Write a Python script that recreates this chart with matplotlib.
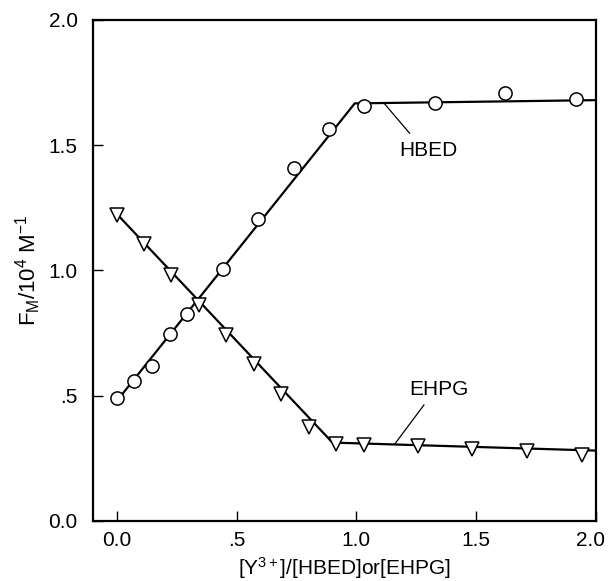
import matplotlib.pyplot as plt
import matplotlib.transforms as mtransforms

plt.rcParams['font.family'] = ['Liberation Sans', 'DejaVu Sans']
plt.rcParams['mathtext.fontset'] = 'custom'
plt.rcParams['mathtext.rm'] = 'Liberation Sans'
plt.rcParams['mathtext.it'] = 'Liberation Sans'

# measured points
hbed_x = [0.0, 0.073, 0.148, 0.222, 0.294, 0.443, 0.59, 0.739, 0.885, 1.03, 1.328, 1.622, 1.918]
hbed_y = [0.492, 0.557, 0.620, 0.746, 0.825, 1.006, 1.207, 1.41, 1.564, 1.657, 1.670, 1.707, 1.683]
ehpg_x = [0.0, 0.114, 0.2275, 0.344, 0.457, 0.571, 0.687, 0.8025, 0.914, 1.03, 1.257, 1.483, 1.7125, 1.942]
ehpg_y = [1.222, 1.106, 0.981, 0.864, 0.741, 0.628, 0.505, 0.376, 0.309, 0.302, 0.298, 0.286, 0.278, 0.262]

# fitted lines (two segments each)
hbed_fit_x = [0.0, 0.993, 2.0]
hbed_fit_y = [0.48, 1.667, 1.68]
ehpg_fit_x = [0.0, 0.9, 2.0]
ehpg_fit_y = [1.225, 0.313, 0.281]

ticks = [0.0, 0.5, 1.0, 1.5, 2.0]
tick_labels = ['0.0', '.5', '1.0', '1.5', '2.0']

fig = plt.figure(figsize=(6.08, 5.81), dpi=100)
ax = fig.add_axes([0.153, 0.1033, 0.827, 0.8623])

ax.plot(hbed_fit_x, hbed_fit_y, color='black', lw=1.6, zorder=2)
ax.plot(ehpg_fit_x, ehpg_fit_y, color='black', lw=1.6, zorder=2)
ax.plot(hbed_x, hbed_y, 'o', ms=9.5, mfc='white', mec='black', mew=1.1, zorder=3)
ax.plot(ehpg_x, ehpg_y, 'v', ms=10, mfc='white', mec='black', mew=1.1, zorder=3)

# labels with leader lines
ax.plot([1.118, 1.222], [1.665, 1.548], color='black', lw=0.9)
ax.text(1.30, 1.477, 'HBED', ha='center', va='center', fontsize=15)
ax.plot([1.282, 1.16], [0.463, 0.307], color='black', lw=0.9)
ax.text(1.345, 0.523, 'EHPG', ha='center', va='center', fontsize=15)

ax.set_xlim(-0.1, 2.0)
ax.set_ylim(0.0, 2.0)
ax.set_xticks(ticks)
ax.set_xticklabels(tick_labels)
ax.set_yticks(ticks)
ax.set_yticklabels(tick_labels)
ax.tick_params(direction='in', length=7, width=1, labelsize=15)
ax.tick_params(axis='x', pad=7)
ax.tick_params(axis='y', pad=11)
for s in ax.spines.values():
    s.set_linewidth(1.6)

# keep the last x tick label inside the figure
last = ax.get_xticklabels()[-1]
last.set_transform(last.get_transform() + mtransforms.ScaledTranslation(-4 / 72, 0, fig.dpi_scale_trans))

ax.set_xlabel(r'[Y$^{3+}$]/[HBED]or[EHPG]', fontsize=15, labelpad=4)
ax.set_ylabel(r'F$_\mathrm{M}$/10$^4$ M$^{-1}$', fontsize=16, labelpad=4)

fig.savefig('out.png', dpi=100)
